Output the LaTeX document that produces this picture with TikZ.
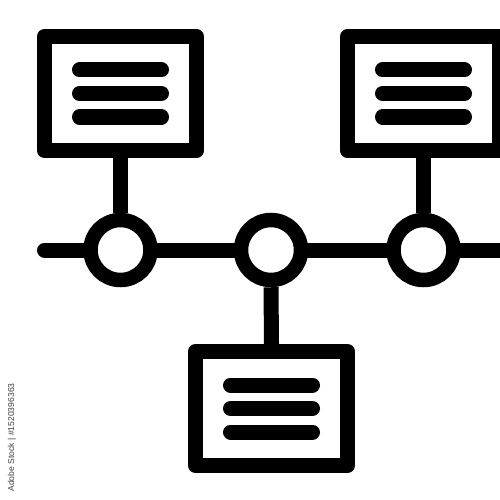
\documentclass[tikz,border=0pt]{standalone}
\usepackage{fontspec}
\setsansfont{Liberation Sans}
\begin{document}
\begin{tikzpicture}[x=1pt,y=-1pt,
  card/.style={draw=black,fill=white,line width=15pt,line join=round,rectangle,inner sep=0pt,minimum width=152pt,minimum height=114pt},
  hub/.style={draw=black,fill=white,line width=14.5pt,circle,inner sep=0pt,minimum size=60pt},
  link/.style={line width=15pt,black},
  bar/.style={line width=15pt,line cap=round,black}]
\useasboundingbox (0,0) rectangle (500,500);
\fill[white] (0,0) rectangle (500,500);
\begin{scope}
\clip (0,0) rectangle (500,500);
\coordinate (lend) at (44.5,250);
\coordinate (rend) at (515,250);
\draw[link,line cap=round] (lend) -- (rend);
\node[card] (lbox) at (120.5,93.5) {};
\node[card] (rbox) at (423.5,93.5) {};
\node[card] (bbox) at (271.5,408.5) {};
\node[hub] (c1) at (120.5,250) {};
\node[hub] (c2) at (271,250) {};
\node[hub] (c3) at (423.5,250) {};
\draw[link] (lbox.south) -- (c1.north);
\draw[link] (rbox.south) -- (c3.north);
\draw[link] (c2.south) -- (bbox.north);
\foreach \b in {lbox,rbox,bbox}
  \foreach \dy in {-23.5,0,23.5}
    \draw[bar] ([xshift=-41pt,yshift=\dy pt]\b.center) -- ([xshift=41pt,yshift=\dy pt]\b.center);
\end{scope}
\node[rotate=90,text=black!75,font=\sffamily\fontsize{8.6}{9}\selectfont,inner sep=0pt] (wm) at (12,437.5) {Adobe Stock | \#1520396363};
\end{tikzpicture}
\end{document}
